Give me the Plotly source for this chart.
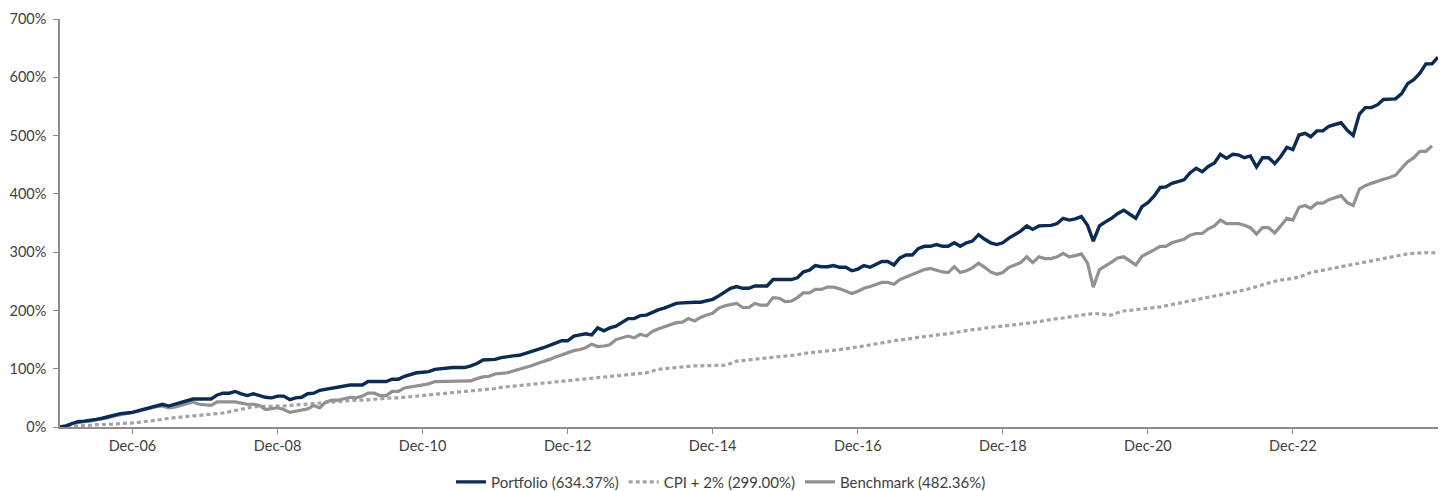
import plotly.graph_objects as go

# Monthly observations, Dec-05 .. Nov-24
start_year, start_month = 2005, 12

portfolio = [
    0, 2, 6, 9, 10, 11, 13, 15, 18, 20, 23, 24,
    25, 28, 31, 34, 37, 39, 36, 39, 42, 45, 48, 48,
    48, 48, 55, 58, 58, 61, 57, 54, 57, 54, 51, 50,
    53, 53, 47, 50, 51, 57, 58, 63, 65, 67, 68, 70,
    72, 72, 72, 78, 78, 78, 78, 82, 82, 87, 90, 93,
    94, 95, 99, 100, 102, 102, 102, 102, 105, 109, 115, 116,
    116, 119, 121, 122, 123, 126, 129, 133, 136, 140, 144, 148,
    148, 156, 158, 160, 158, 170, 165, 170, 173, 180, 186, 186,
    191, 192, 197, 201, 204, 208, 212, 213, 214, 214, 214, 217,
    219, 225, 232, 238, 241, 238, 238, 242, 242, 242, 253, 253,
    253, 253, 256, 266, 269, 277, 275, 275, 277, 274, 274, 268,
    271, 277, 274, 279, 284, 284, 278, 290, 295, 295, 306, 310,
    310, 313, 310, 310, 316, 310, 316, 319, 330, 322, 316, 313,
    316, 324, 331, 336, 345, 339, 345, 346, 346, 349, 358, 355,
    357, 361, 346, 319, 345, 352, 358, 366, 372, 365, 358, 378,
    385, 396, 411, 412, 418, 421, 424, 436, 444, 438, 447, 453,
    468, 461, 468, 467, 462, 465, 446, 462, 462, 452, 464, 480,
    476, 501, 504, 498, 508, 508, 516, 519, 522, 509, 500, 537,
    548, 548, 553, 562, 563, 563, 572, 589, 596, 607, 623, 623,
    634.37,
]

cpi_plus_2 = [
    0, 0, 1, 2, 2, 3, 4, 4, 5, 5, 6, 6,
    7, 8, 9, 11, 12, 13, 15, 16, 17, 17, 18, 19,
    20, 21, 22, 24, 26, 28, 30, 33, 35, 35, 35, 36,
    36, 36, 37, 38, 39, 40, 41, 41, 42, 43, 44, 44,
    45, 46, 46, 47, 48, 48, 49, 50, 50, 51, 52, 53,
    54, 54, 55, 56, 57, 58, 59, 60, 61, 62, 63, 64,
    66, 68, 69, 70, 71, 72, 73, 74, 75, 76, 77, 78,
    79, 80, 81, 82, 83, 84, 85, 86, 87, 88, 89, 90,
    91, 93, 96, 99, 100, 101, 102, 104, 105, 105, 105, 105,
    105, 105, 106, 109, 113, 114, 115, 116, 117, 118, 119, 120,
    121, 122, 124, 126, 127, 128, 129, 130, 132, 133, 134, 136,
    137, 139, 141, 143, 145, 146, 148, 149, 150, 152, 154, 155,
    156, 157, 159, 160, 162, 164, 165, 167, 168, 170, 171, 172,
    173, 174, 175, 177, 178, 179, 181, 183, 185, 186, 187, 189,
    190, 192, 193, 195, 194, 193, 192, 196, 199, 200, 201, 202,
    203, 205, 206, 208, 210, 212, 214, 216, 218, 220, 222, 224,
    226, 228, 230, 233, 235, 238, 241, 245, 248, 250, 252, 253,
    255, 257, 261, 265, 267, 269, 271, 273, 275, 277, 279, 281,
    283, 285, 287, 289, 291, 293, 295, 297, 298, 299, 299, 299,
    299.00,
]

benchmark = [
    0, 2, 6, 8, 9, 10, 12, 13, 16, 19, 21, 23,
    24, 27, 30, 33, 35, 36, 33, 34, 37, 40, 43, 39,
    38, 37, 43, 43, 43, 43, 41, 39, 39, 37, 30, 31,
    33, 30, 25, 27, 29, 31, 37, 33, 43, 46, 46, 49,
    51, 50, 53, 58, 58, 54, 54, 61, 61, 67, 69, 71,
    72, 74, 78, 78, 79, 79, 79, 79, 79, 83, 86, 87,
    91, 92, 93, 96, 99, 101, 105, 109, 112, 116, 120, 124,
    128, 131, 133, 136, 142, 138, 139, 141, 150, 153, 156, 153,
    159, 156, 164, 168, 172, 175, 179, 180, 186, 182, 188, 192,
    195, 204, 208, 210, 212, 205, 205, 212, 209, 209, 222, 221,
    215, 216, 222, 230, 230, 236, 236, 240, 240, 237, 233, 229,
    233, 238, 241, 244, 248, 248, 245, 253, 257, 261, 266, 270,
    272, 269, 266, 265, 275, 265, 268, 273, 281, 274, 266, 262,
    265, 274, 278, 282, 292, 282, 292, 289, 289, 292, 298, 292,
    294, 297, 281, 240, 270, 276, 283, 290, 292, 285, 278, 293,
    298, 304, 310, 310, 316, 319, 322, 329, 332, 332, 340, 345,
    355, 349, 349, 349, 346, 342, 331, 342, 342, 333, 345, 358,
    355, 377, 380, 375, 384, 384, 390, 393, 397, 385, 380, 408,
    414, 418, 422, 425, 428, 432, 444, 455, 462, 473, 473, 482.36,
]

series_names = ["Portfolio (634.37%)", "CPI + 2% (299.00%)", "Benchmark (482.36%)"]

tick_dates = ["2006-12-01", "2008-12-01", "2010-12-01", "2012-12-01",
              "2014-12-01", "2016-12-01", "2018-12-01", "2020-12-01", "2022-12-01"]
tick_labels = ["Dec-06", "Dec-08", "Dec-10", "Dec-12", "Dec-14",
               "Dec-16", "Dec-18", "Dec-20", "Dec-22"]

y_ticks = [0, 100, 200, 300, 400, 500, 600, 700]
y_labels = ["0%", "100%", "200%", "300%", "400%", "500%", "600%", "700%"]


def month_dates(n):
    out = []
    y, m = start_year, start_month
    for _ in range(n):
        out.append(f"{y}-{m:02d}-01")
        m += 1
        if m > 12:
            m = 1
            y += 1
    return out


dates = month_dates(len(portfolio))
dates_cpi = month_dates(len(cpi_plus_2))
dates_bm = month_dates(len(benchmark))

NAVY = "#0A2B54"
GREY = "#919191"
GREY_DOT = "#A3A3A3"
AXIS = "#8C8C8C"
TEXT = "#404040"
FONT = "Lato, Open Sans, Noto Sans, sans-serif"

fig = go.Figure()
fig.add_trace(go.Scatter(x=dates_cpi, y=cpi_plus_2, mode="lines", name=series_names[1],
                         line=dict(color=GREY_DOT, width=3.2, dash="4px,3px"), legendrank=2))
fig.add_trace(go.Scatter(x=dates_bm, y=benchmark, mode="lines", name=series_names[2],
                         line=dict(color=GREY, width=3.2), legendrank=3))
fig.add_trace(go.Scatter(x=dates, y=portfolio, mode="lines", name=series_names[0],
                         line=dict(color=NAVY, width=3.4), legendrank=1))

# the page adds an 8px body margin, so the figure is 8px smaller than the window
fig.update_layout(
    width=1441, height=483,
    margin=dict(l=52, r=11, t=11, b=64, autoexpand=False),
    paper_bgcolor="white", plot_bgcolor="white",
    font=dict(family=FONT, size=14, color=TEXT),
    showlegend=True,
    legend=dict(orientation="h", x=0.4797, xanchor="center", y=-0.135, yanchor="middle",
                font=dict(family=FONT, size=15, color=TEXT), traceorder="normal",
                itemwidth=30, tracegroupgap=0),
)
fig.update_xaxes(
    range=[dates[0], dates[-1]],
    tickvals=tick_dates, ticktext=tick_labels,
    showgrid=False, zeroline=False, automargin=False,
    showline=True, linecolor=AXIS, linewidth=1.5,
    ticks="outside", ticklen=5, tickcolor=AXIS, tickwidth=1,
    tickfont=dict(family=FONT, size=14.5, color=TEXT),
)
fig.update_yaxes(
    range=[0, 700],
    tickvals=y_ticks, ticktext=y_labels,
    showgrid=False, zeroline=False, automargin=False,
    showline=True, linecolor=AXIS, linewidth=1.5,
    ticks="outside", ticklen=5, tickcolor=AXIS, tickwidth=1,
    ticklabelstandoff=4,
    tickfont=dict(family=FONT, size=14.5, color=TEXT),
)

fig.write_html("out.html")
